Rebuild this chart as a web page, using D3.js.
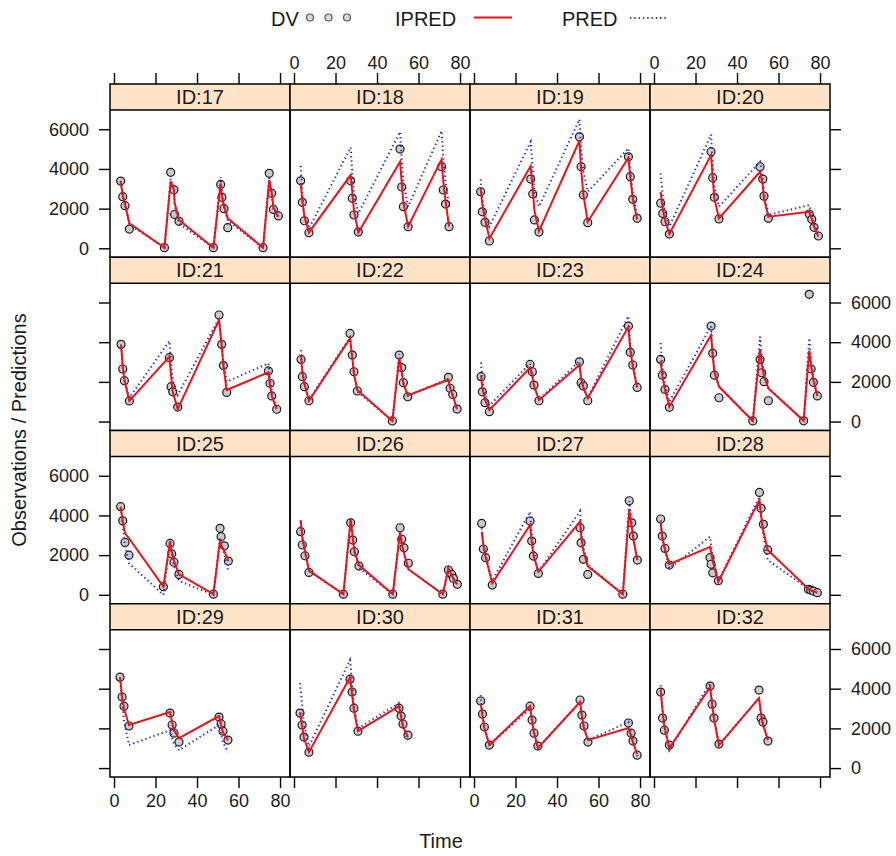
<!DOCTYPE html>
<html><head><meta charset="utf-8">
<script src="https://cdn.jsdelivr.net/npm/d3@7"></script>
<style>body{margin:0;background:#fff}svg{font-family:"Liberation Sans",Arial,sans-serif}</style>
</head><body><svg id="chart" width="896" height="856"></svg>
<script>
const ids = ["ID:17","ID:18","ID:19","ID:20","ID:21","ID:22","ID:23","ID:24","ID:25","ID:26","ID:27","ID:28","ID:29","ID:30","ID:31","ID:32"];
const times = [
 [3.2,4.2,5.3,7.4,24.3,27.3,28.9,29.2,31.3,47.9,51.4,52,53,54.8,71.8,74.8,76,76.8,79.2],
 [3.2,4.0,5.0,7.2,27.3,28.1,28.9,31.0,51.1,51.9,52.7,55.0,71.1,71.9,73.0,74.7],
 [3.2,4.0,5.3,7.4,27.3,28.3,29.1,31.3,50.8,51.6,52.7,54.8,74.4,75.3,76.5,78.6],
 [3.2,4.2,5.3,7.4,27.5,28.3,29.1,31.3,51.1,52.4,53,55.1,74.8,76,77.1,79.2],
 [3.4,4.2,5.0,7.4,26.7,27.5,28.3,30.7,50.6,51.9,52.7,54.3,74.4,75.2,76,78.4],
 [3.4,4.0,5.0,7.2,27,28.1,28.9,30.5,47.4,50.7,51.9,52.7,54.8,74.4,75.2,76.5,78.6],
 [3.4,4.0,5.3,7.4,27,28.1,28.9,31.3,50.8,51.6,52.7,54.8,74.4,75.3,76.5,78.6],
 [3.2,4.0,5.3,7.4,27.5,28.3,29.1,31.3,47.6,51.1,51.9,53,55.1,72.1,74.8,75.7,76.8,78.7],
 [3.2,4.2,5.3,7.2,23.8,27,27.8,28.9,31.3,47.9,51.1,51.6,53.2,55.1],
 [3.2,4.0,5.3,7.2,23.8,27.3,28.3,29.1,31.3,47.6,51.1,51.9,53,55.1,71.7,74.4,76,76.8,78.7],
 [3.7,4.5,5.6,8.8,27,27.8,28.6,31,51.1,51.6,52.7,54.8,71.7,74.8,76,76.8,78.7],
 [3.2,4.0,5.3,7.4,27,27.5,28.3,31,50.8,51.6,52.7,54.8,74.4,75.5,76.8,78.7],
 [2.9,3.9,4.8,7.2,27,28,28.9,31.3,50.6,51.6,52.5,54.9],
 [2.9,3.9,4.8,7.2,27,28,28.9,30.8,50.6,51.6,52.5,54.9],
 [3.2,4.1,5.0,7.4,27.0,28.0,28.9,30.8,51.1,52.0,53.0,54.9,74.4,75.7,76.6,78.6],
 [3.2,4.1,5.0,7.4,27,28,28.9,31.3,50.6,51.6,52.5,54.9]
];
const dv = [
 [3390,2600,2150,970,30,3830,2950,1710,1360,30,3220,2570,2000,1040,30,3780,2770,1960,1630],
 [3400,2320,1390,790,3400,2520,1680,820,5000,3090,2100,1090,4110,2940,2230,1090],
 [2850,1840,1310,370,3490,2740,1430,820,5620,4110,2690,1290,4610,3610,2470,1510],
 [2270,1760,1340,720,4870,3560,2570,1480,4110,3490,2630,1510,1730,1460,1060,620],
 [3890,2650,2060,1040,3220,1760,1500,730,5370,3890,2820,1470,2550,1930,1290,620],
 [3130,2260,1760,1050,4440,3350,2510,1540,30,3350,2720,1960,1250,2230,1680,1370,630],
 [2260,1500,950,500,2880,2510,1840,1050,3010,1960,1790,1050,4810,3490,2850,1720],
 [3130,2340,1620,720,4810,3440,2340,1200,30,3130,2460,2010,1050,40,6410,2650,1980,1290],
 [4440,3730,2640,2000,410,2590,2060,1640,1030,30,3350,2930,2470,1700],
 [3180,2510,1970,1130,30,3630,2760,2170,1450,30,3380,2800,2370,1590,30,1250,1030,830,530],
 [3600,2310,1870,490,3720,2710,1950,1080,3380,2620,1790,1030,30,4740,3630,2960,1750],
 [3820,2960,2340,1500,1870,1540,1110,710,5160,4360,3550,2260,280,240,190,110],
 [4580,3580,3120,2120,2770,2170,1760,1310,2570,2220,1860,1410],
 [2770,2170,1560,800,4480,3830,3020,1860,3020,2620,2220,1660],
 [3380,2720,2070,1160,3120,2420,1760,1110,3430,2670,2120,1310,2270,1760,1360,650],
 [3830,2520,1910,1160,4130,3220,2520,1210,3930,2520,2320,1360]
];
const ipred = [
 [3360,2690,2230,1260,30,3390,2940,2300,1430,30,3270,2640,2150,1510,30,3440,2790,2050,1590],
 [3300,2400,1600,800,3690,2800,1900,800,4360,3300,2300,1100,4480,3400,2400,1100],
 [3020,2200,1500,500,4150,3000,1900,870,5420,4000,2700,1340,4560,3600,2500,1450],
 [2850,2000,1400,720,4700,3500,2500,1510,3860,3200,2500,1590,1840,1500,1100,590],
 [3890,2800,2100,1040,3270,2300,1500,630,5120,3800,2800,1590,2480,1800,1300,620],
 [3350,2500,1900,1050,4190,3200,2400,1590,30,3190,2500,1900,1320,2110,1700,1300,630],
 [2340,1700,1100,580,2710,2300,1800,1080,2850,2200,1700,1170,4780,3600,2800,1720],
 [3050,2300,1600,750,4360,3300,2500,1760,30,3650,2900,2300,1670,40,3580,2800,2100,1290],
 [4440,3700,3100,2850,410,2680,2200,1700,1030,30,2760,2500,2200,1700],
 [3770,2900,2200,1220,30,3830,2900,2200,1500,30,3180,2600,2100,1290,30,1330,1000,800,530],
 [3180,2500,1900,580,3520,2700,2000,1160,3690,3000,2200,1450,30,4270,3400,2800,1750],
 [3650,2900,2300,1540,2420,2150,1700,660,4780,4000,3200,2260,300,240,180,110],
 [4580,3600,3000,2170,2820,2300,1900,1510,2620,2200,1800,1410],
 [2820,2100,1500,800,4580,3700,2900,1860,3120,2600,2100,1560],
 [3270,2600,2000,1160,3120,2400,1800,1010,3330,2600,2000,1410,2020,1600,1300,700],
 [3930,2900,2100,1010,4080,3200,2500,1160,3530,2700,2200,1410]
];
const pred = [
 [3400,2650,2200,1200,30,3500,2900,2200,1250,30,3580,2700,2100,1400,30,3550,2800,2000,1550],
 [4150,2800,1700,1000,5090,3800,2700,1760,5870,4500,3300,2100,5920,4600,3400,2100],
 [3480,2500,1700,1090,5370,4000,2900,2100,6500,5000,3900,2850,5040,3900,2800,1600],
 [3780,2700,1800,1100,5730,4300,3100,2100,4360,3600,2800,1680,2180,1700,1200,790],
 [3830,2800,2100,1200,4060,3000,2100,1340,5200,4000,3000,2010,2930,2200,1500,670],
 [3600,2600,1950,1100,4250,3250,2450,1500,30,3400,2600,1950,1300,2150,1700,1300,600],
 [2980,2100,1400,800,2930,2400,1800,1100,3050,2300,1750,1200,5310,3900,2900,1750],
 [3960,2800,1900,1000,4810,3500,2600,1800,30,4280,3200,2400,1700,40,4200,3000,2200,1300],
 [4400,3500,2500,1590,0,2750,2100,1500,700,0,2900,2600,2000,1160],
 [3700,2850,2150,1200,30,3750,2850,2150,1350,30,3250,2650,2100,1300,30,1350,1000,800,520],
 [3350,2600,2000,700,4190,3200,2300,1160,4220,3300,2400,1500,30,4710,3600,2900,1750],
 [3750,2900,2200,1330,2930,2500,1900,700,4940,4000,3000,1750,300,240,180,110],
 [4580,3300,2400,1160,1910,1500,1200,900,2170,1700,1300,800],
 [4280,3200,2200,1100,5440,4300,3200,2000,3270,2700,2100,1410],
 [3680,2800,2100,1150,3000,2350,1750,1000,3330,2600,2000,1400,2320,1750,1350,600],
 [4180,3000,2100,900,4280,3300,2500,1160,3530,2700,2200,1410]
];
const xTicks = [0,20,40,60,80];
const yTicks = [0,2000,4000,6000];
const legendLabels = ["DV","IPRED","PRED"];
const xTitle = "Time";
const yTitle = "Observations / Predictions";

const gridLeft = 110, gridTop = 84, colW = 180, stripH = 26, plotH = 147.25, rowH = stripH + plotH;
const nCol = 4, nRow = 4;
const svg = d3.select("#chart");
const x = d3.scaleLinear().domain([-1.93, 84.8]).range([0, colW]);
const y = d3.scaleLinear().domain([-450, 6970]).range([plotH, 0]);
const RED = "#e8141c", BLUE = "#2828d0";

function styleAxis(g){
  g.select(".domain").remove();
  g.selectAll(".tick line").attr("stroke","#000").attr("stroke-width",1.4);
  g.selectAll(".tick text").attr("font-size",18).attr("fill","#1a1a1a").attr("font-family","'Liberation Sans',Arial,sans-serif");
}

ids.forEach((id, i) => {
  const c = i % nCol, r = Math.floor(i / nCol);
  const gx = gridLeft + c * colW, gy = gridTop + r * rowH;
  const g = svg.append("g").attr("transform", `translate(${gx},${gy})`);
  g.append("rect").attr("width", colW).attr("height", stripH).attr("fill", "#ffe3c6");
  g.append("text").attr("x", colW / 2).attr("y", stripH / 2).attr("dy", "0.36em")
    .attr("text-anchor", "middle").attr("font-size", 20).attr("fill", "#1a1a1a").text(id);
  const p = g.append("g").attr("transform", `translate(0,${stripH})`);
  const pts = times[i].map((t, k) => ({t, dv: dv[i][k], ip: ipred[i][k], pr: pred[i][k]}));
  p.selectAll("circle.dv").data(pts).join("circle").attr("class","dv")
    .attr("cx", d => x(d.t)).attr("cy", d => y(d.dv)).attr("r", 4)
    .attr("fill", "#c8cacd").attr("stroke", "#1a1a1a").attr("stroke-width", 1.2);
  p.append("path").datum(pts).attr("fill","none").attr("stroke",BLUE).attr("stroke-width",2)
    .attr("stroke-dasharray","1.3,3").attr("d", d3.line().x(d => x(d.t)).y(d => y(d.pr)));
  p.append("path").datum(pts).attr("fill","none").attr("stroke",RED).attr("stroke-width",2)
    .attr("d", d3.line().x(d => x(d.t)).y(d => y(d.ip)));
  g.append("rect").attr("width", colW).attr("height", rowH).attr("fill","none").attr("stroke","#000").attr("stroke-width",1.5);
  g.append("line").attr("x1",0).attr("x2",colW).attr("y1",stripH).attr("y2",stripH).attr("stroke","#000").attr("stroke-width",1.5);
  if (r === 0) {
    const a = g.append("g").call(d3.axisTop(x).tickValues(xTicks).tickSize(11).tickPadding(4)
      .tickFormat(c % 2 === 1 ? d3.format("d") : () => ""));
    styleAxis(a);
  }
  if (r === nRow - 1) {
    const a = p.append("g").attr("transform", `translate(0,${plotH})`).call(d3.axisBottom(x).tickValues(xTicks).tickSize(11).tickPadding(6)
      .tickFormat(c % 2 === 0 ? d3.format("d") : () => ""));
    styleAxis(a);
  }
  if (c === 0) {
    const a = p.append("g").call(d3.axisLeft(y).tickValues(yTicks).tickSize(11).tickPadding(10)
      .tickFormat(r % 2 === 0 ? d3.format("d") : () => ""));
    styleAxis(a);
  }
  if (c === nCol - 1) {
    const a = p.append("g").attr("transform", `translate(${colW},0)`).call(d3.axisRight(y).tickValues(yTicks).tickSize(11).tickPadding(10)
      .tickFormat(r % 2 === 1 ? d3.format("d") : () => ""));
    styleAxis(a);
  }
});

svg.append("text").attr("x", 441).attr("y", 848).attr("text-anchor","middle").attr("font-size",20).attr("fill","#1a1a1a").text(xTitle);
svg.append("text").attr("transform","translate(26,430) rotate(-90)").attr("text-anchor","middle").attr("font-size",20).attr("fill","#1a1a1a").text(yTitle);

const lg = svg.append("g");
lg.append("text").attr("x",271).attr("y",26).attr("font-size",20).attr("fill","#1a1a1a").text(legendLabels[0]);
[310,328.5,347].forEach(cx => lg.append("circle").attr("cx",cx).attr("cy",17.5).attr("r",3.5)
  .attr("fill","#d8d8d8").attr("stroke","#555").attr("stroke-width",1.2));
lg.append("text").attr("x",395).attr("y",26).attr("font-size",20).attr("fill","#1a1a1a").text(legendLabels[1]);
lg.append("line").attr("x1",474).attr("x2",512).attr("y1",17.5).attr("y2",17.5).attr("stroke",RED).attr("stroke-width",2);
lg.append("text").attr("x",562).attr("y",26).attr("font-size",20).attr("fill","#1a1a1a").text(legendLabels[2]);
lg.append("line").attr("x1",630).attr("x2",668).attr("y1",18).attr("y2",18).attr("stroke",BLUE).attr("stroke-width",2).attr("stroke-dasharray","1.3,3");
</script></body></html>
